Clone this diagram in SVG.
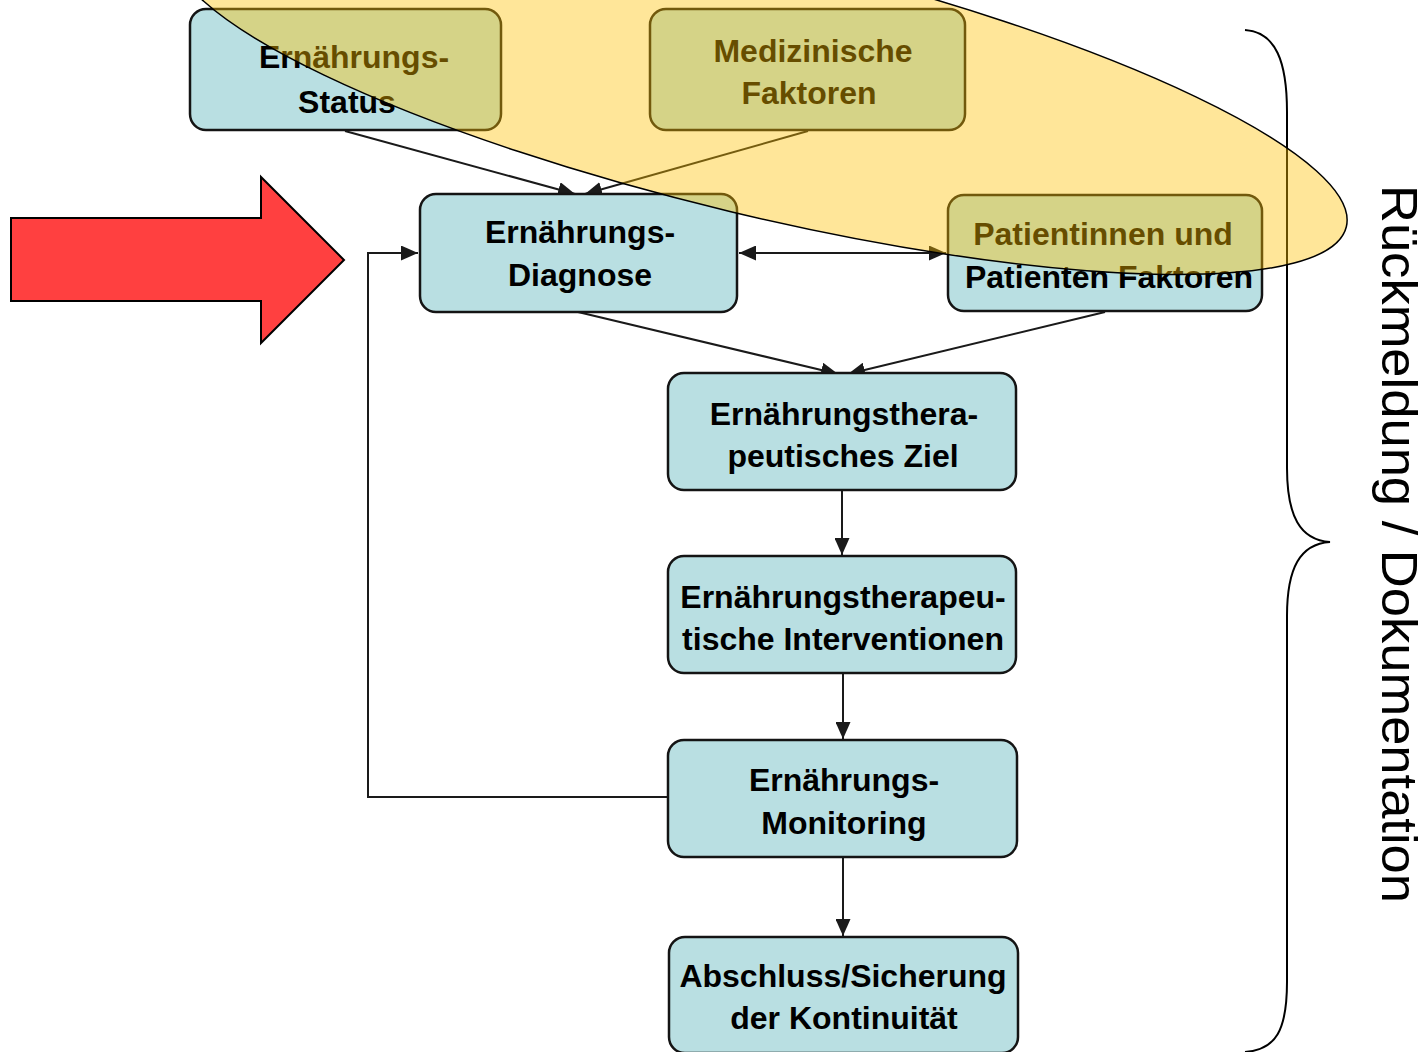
<svg xmlns="http://www.w3.org/2000/svg" width="1428" height="1052" viewBox="0 0 1428 1052">
  <style>
    .box{fill:#B9DFE2;stroke:#141414;stroke-width:2.5}
    .lbl{font-family:"Liberation Sans",Arial,sans-serif;font-weight:bold;font-size:32px;fill:#000;text-anchor:middle}
    .con{fill:none;stroke:#1a1a1a;stroke-width:2}
  </style>
  <defs>
    <marker id="ah" markerUnits="userSpaceOnUse" markerWidth="18" markerHeight="15" refX="17" refY="7.5" orient="auto-start-reverse" viewBox="0 0 18 15">
      <path d="M0,0 L17,7.5 L0,15 z" fill="#1a1a1a"/>
    </marker>
  </defs>
  <rect width="1428" height="1052" fill="#fff"/>

  <g id="connectors">
    <line class="con" x1="345" y1="131" x2="575" y2="194" marker-end="url(#ah)"/>
    <line class="con" x1="808" y1="131" x2="585" y2="194" marker-end="url(#ah)"/>
    <line class="con" x1="578" y1="312" x2="838" y2="374" marker-end="url(#ah)"/>
    <line class="con" x1="1105" y1="312" x2="848" y2="374" marker-end="url(#ah)"/>
    <line class="con" x1="739" y1="253" x2="946" y2="253" marker-start="url(#ah)" marker-end="url(#ah)"/>
    <line class="con" x1="842" y1="491" x2="842" y2="555" marker-end="url(#ah)"/>
    <line class="con" x1="843" y1="674" x2="843" y2="739" marker-end="url(#ah)"/>
    <line class="con" x1="843" y1="857" x2="843" y2="936" marker-end="url(#ah)"/>
    <polyline class="con" points="668,797 368,797 368,253 418,253" marker-end="url(#ah)"/>
  </g>

  <g id="n-status">
    <rect class="box" x="190" y="9" width="311" height="121" rx="16"/>
    <text class="lbl" x="354" y="68">Ernährungs-</text>
    <text class="lbl" x="347" y="113">Status</text>
  </g>
  <g id="n-medizin">
    <rect class="box" x="650" y="9" width="315" height="121" rx="16"/>
    <text class="lbl" x="813" y="62">Medizinische</text>
    <text class="lbl" x="809" y="104">Faktoren</text>
  </g>
  <g id="n-diagnose">
    <rect class="box" x="420" y="194" width="317" height="118" rx="16"/>
    <text class="lbl" x="580" y="243">Ernährungs-</text>
    <text class="lbl" x="580" y="286">Diagnose</text>
  </g>
  <g id="n-patient">
    <rect class="box" x="948" y="195" width="314" height="116" rx="16"/>
    <text class="lbl" x="1103" y="245">Patientinnen und</text>
    <text class="lbl" x="1109" y="288">Patienten Faktoren</text>
  </g>
  <g id="n-ziel">
    <rect class="box" x="668" y="373" width="348" height="117" rx="16"/>
    <text class="lbl" x="844" y="425">Ernährungsthera-</text>
    <text class="lbl" x="843" y="467">peutisches Ziel</text>
  </g>
  <g id="n-intervention">
    <rect class="box" x="668" y="556" width="348" height="117" rx="16"/>
    <text class="lbl" x="843" y="608">Ernährungstherapeu-</text>
    <text class="lbl" x="843" y="650">tische Interventionen</text>
  </g>
  <g id="n-monitoring">
    <rect class="box" x="668" y="740" width="349" height="117" rx="16"/>
    <text class="lbl" x="844" y="791">Ernährungs-</text>
    <text class="lbl" x="844" y="834">Monitoring</text>
  </g>
  <g id="n-abschluss">
    <rect class="box" x="669" y="937" width="349" height="116" rx="16"/>
    <text class="lbl" x="843" y="987">Abschluss/Sicherung</text>
    <text class="lbl" x="844" y="1029">der Kontinuität</text>
  </g>

  <g id="brace">
    <path d="M1245,30 C1276,32 1287,62 1287,112 L1287,468 C1287,516 1300,540 1330,542 C1300,544 1287,568 1287,616 L1287,982 C1287,1030 1276,1050 1245,1052" fill="none" stroke="#000" stroke-width="2"/>
  </g>

  <g id="overlay">
    <ellipse cx="760" cy="86" rx="603" ry="129" transform="rotate(13.5 760 86)" fill="#FFC000" fill-opacity="0.4" stroke="#000" stroke-width="1.5"/>
  </g>

  <g id="red-arrow">
    <polygon points="11,218 261,218 261,177 344,260 261,343 261,301 11,301" fill="#FF4040" stroke="#000" stroke-width="2"/>
  </g>

  <g id="side-label">
    <text transform="translate(1382,185) rotate(90)" font-family="'Liberation Sans',Arial,sans-serif" font-size="50" fill="#000" textLength="718" lengthAdjust="spacingAndGlyphs">Rückmeldung / Dokumentation</text>
  </g>
</svg>
